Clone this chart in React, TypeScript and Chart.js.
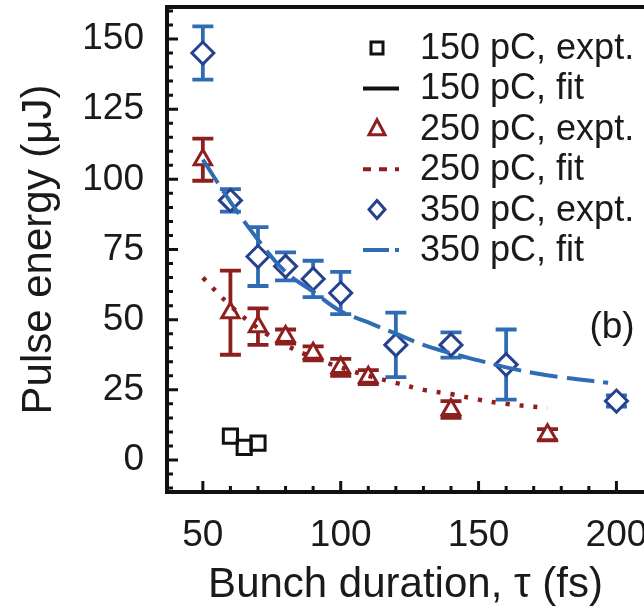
import React, { useEffect, useRef } from 'react';
import { Chart, registerables } from 'chart.js';

Chart.register(...registerables);

// ---- data ----
const xTickValues = [50, 100, 150, 200];
const yTickValues = [0, 25, 50, 75, 100, 125, 150];
const xMinorTicks = [60, 70, 80, 90, 110, 120, 130, 140, 160, 170, 180, 190];
const yMinorTicks = [-10, -5, 5, 10, 15, 20, 30, 35, 40, 45, 55, 60, 65, 70, 80, 85, 90, 95, 105, 110, 115, 120, 130, 135, 140, 145, 155, 160];

const tau150 = [60, 65, 70];
const energy150 = [8.5, 4.5, 6];

const tau250 = [50, 60, 70, 80, 90, 100, 110, 140, 175];
const energy250 = [107, 52.5, 47.5, 44, 38, 33, 29.5, 18, 9];
const err250 = [7.5, 15, 6.5, 2.5, 2.5, 3, 2.5, 3, 2];

const tau350 = [50, 60, 70, 80, 90, 100, 120, 140, 160, 200];
const energy350 = [145, 92.5, 72.5, 69, 64.5, 59.5, 41, 41, 34, 21];
const err350 = [9.5, 4, 10.5, 5, 6.5, 7.5, 11.5, 4.5, 12.5, 2];

const fitTau150: number[] = [];
const fitEnergy150: number[] = [];

const fitTau250 = [50, 60, 70, 80, 90, 100, 110, 120, 130, 140, 150, 160, 175];
const fitEnergy250 = [65, 55, 47, 41, 36.5, 33, 30, 27.5, 25, 23.5, 21.5, 20, 18.5];

const fitTau350 = [50, 60, 70, 80, 90, 100, 110, 120, 130, 140, 150, 160, 170, 180, 197];
const fitEnergy350 = [107, 92, 78.5, 67, 60, 53, 49, 45, 41, 38, 35.5, 33, 31, 29.5, 27.5];

const FONT = '"Liberation Sans", Arial, Helvetica, sans-serif';
const RED = '#8e1f1f';
const NAVY = '#26418d';
const BLUE = '#2f6cb3';
const BLACK = '#111111';

const toPts = (xs: number[], ys: number[]) => xs.map((x, i) => ({ x, y: ys[i] }));

const zeroPadding = (s: any) => {
  s.paddingLeft = 0;
  s.paddingRight = 0;
  s.paddingTop = 0;
  s.paddingBottom = 0;
};

const errorBarPlugin = {
  id: 'errorBars',
  beforeDatasetsDraw(chart: any) {
    const { ctx } = chart;
    const x = chart.scales.x;
    const y = chart.scales.y;
    chart.data.datasets.forEach((ds: any) => {
      if (!ds.errors) return;
      ctx.save();
      ctx.strokeStyle = ds.errorColor;
      ctx.lineWidth = 3.8;
      ds.data.forEach((p: any, i: number) => {
        const e = ds.errors[i];
        const px = x.getPixelForValue(p.x);
        const top = y.getPixelForValue(p.y + e);
        const bot = y.getPixelForValue(p.y - e);
        ctx.beginPath();
        ctx.moveTo(px, top);
        ctx.lineTo(px, bot);
        ctx.moveTo(px - 10.5, top);
        ctx.lineTo(px + 10.5, top);
        ctx.moveTo(px - 10.5, bot);
        ctx.lineTo(px + 10.5, bot);
        ctx.stroke();
      });
      ctx.restore();
    });
  },
};

const framePlugin = {
  id: 'frame',
  afterDatasetsDraw(chart: any) {
    const { ctx, chartArea } = chart;
    const { left, right, top, bottom } = chartArea;
    const x = chart.scales.x;
    const y = chart.scales.y;
    ctx.save();
    ctx.strokeStyle = BLACK;
    ctx.lineCap = 'butt';
    ctx.lineWidth = 4;
    ctx.beginPath();
    ctx.moveTo(right + 4, top);
    ctx.lineTo(left, top);
    ctx.lineTo(left, bottom);
    ctx.lineTo(right + 4, bottom);
    ctx.stroke();
    ctx.lineWidth = 3;
    ctx.beginPath();
    yTickValues.forEach((v) => {
      const py = y.getPixelForValue(v);
      ctx.moveTo(left, py);
      ctx.lineTo(left + 11, py);
    });
    yMinorTicks.forEach((v) => {
      const py = y.getPixelForValue(v);
      ctx.moveTo(left, py);
      ctx.lineTo(left + 6, py);
    });
    xTickValues.forEach((v) => {
      const px = x.getPixelForValue(v);
      ctx.moveTo(px, bottom);
      ctx.lineTo(px, bottom - 11);
    });
    xMinorTicks.forEach((v) => {
      const px = x.getPixelForValue(v);
      ctx.moveTo(px, bottom);
      ctx.lineTo(px, bottom - 6);
    });
    ctx.stroke();

    // panel label
    ctx.fillStyle = '#1a1a1a';
    ctx.font = `37px ${FONT}`;
    ctx.textAlign = 'center';
    ctx.textBaseline = 'middle';
    ctx.fillText('(b)', 612, 328);
    ctx.restore();
  },
};

const legendPlugin = {
  id: 'customLegend',
  afterDraw(chart: any) {
    const { ctx } = chart;
    const symX = 377;
    const textX = 420;
    const y0 = 48;
    const dy = 40.4;
    ctx.save();
    chart.data.datasets.forEach((ds: any, i: number) => {
      const cy = y0 + i * dy;
      ctx.strokeStyle = ds.borderColor;
      if (ds.showLine === false) {
        ctx.lineWidth = 3;
        ctx.fillStyle = '#ffffff';
        ctx.beginPath();
        if (ds.pointStyle === 'rect') {
          ctx.rect(symX - 6, cy - 6, 12, 12);
        } else if (ds.pointStyle === 'triangle') {
          ctx.moveTo(symX, cy - 9);
          ctx.lineTo(symX + 8, cy + 6);
          ctx.lineTo(symX - 8, cy + 6);
          ctx.closePath();
        } else {
          ctx.moveTo(symX, cy - 9);
          ctx.lineTo(symX + 8, cy);
          ctx.lineTo(symX, cy + 9);
          ctx.lineTo(symX - 8, cy);
          ctx.closePath();
        }
        ctx.fill();
        ctx.stroke();
      } else {
        ctx.lineWidth = 4;
        ctx.setLineDash(ds.legendDash || []);
        ctx.beginPath();
        ctx.moveTo(symX - 14, cy);
        ctx.lineTo(symX + 22, cy);
        ctx.stroke();
        ctx.setLineDash([]);
      }
      ctx.fillStyle = '#1a1a1a';
      ctx.font = `36px ${FONT}`;
      ctx.textAlign = 'left';
      ctx.textBaseline = 'middle';
      ctx.fillText(ds.label, textX, cy + 1);
    });
    ctx.restore();
  },
};

export default function App() {
  const ref = useRef<HTMLCanvasElement | null>(null);

  useEffect(() => {
    document.body.style.margin = '0';
    const canvas = ref.current;
    if (!canvas) return;
    const chart = new Chart(canvas, {
      type: 'scatter',
      data: {
        datasets: [
          {
            label: '150 pC, expt.',
            data: toPts(tau150, energy150),
            showLine: false,
            pointStyle: 'rect',
            pointRadius: 10,
            pointBorderWidth: 3,
            borderColor: BLACK,
            pointBorderColor: BLACK,
            pointBackgroundColor: 'rgba(255,255,255,0)',
            order: 1,
          } as any,
          {
            label: '150 pC, fit',
            data: toPts(fitTau150, fitEnergy150),
            showLine: true,
            borderColor: BLACK,
            borderWidth: 4,
            pointRadius: 0,
            legendDash: [],
            order: 0,
          } as any,
          {
            label: '250 pC, expt.',
            data: toPts(tau250, energy250),
            errors: err250,
            errorColor: RED,
            showLine: false,
            pointStyle: 'triangle',
            pointRadius: 10,
            pointBorderWidth: 3,
            borderColor: RED,
            pointBorderColor: RED,
            pointBackgroundColor: '#ffffff',
            order: 1,
          } as any,
          {
            label: '250 pC, fit',
            data: toPts(fitTau250, fitEnergy250),
            showLine: true,
            borderColor: RED,
            borderWidth: 4.5,
            borderDash: [4, 10],
            borderCapStyle: 'butt',
            tension: 0.4,
            pointRadius: 0,
            legendDash: [8, 8],
            order: 0,
          } as any,
          {
            label: '350 pC, expt.',
            data: toPts(tau350, energy350),
            errors: err350,
            errorColor: BLUE,
            showLine: false,
            pointStyle: 'rectRot',
            pointRadius: 11,
            pointBorderWidth: 3,
            borderColor: NAVY,
            pointBorderColor: NAVY,
            pointBackgroundColor: '#ffffff',
            order: 1,
          } as any,
          {
            label: '350 pC, fit',
            data: toPts(fitTau350, fitEnergy350),
            showLine: true,
            borderColor: BLUE,
            borderWidth: 4,
            borderDash: [28, 9],
            tension: 0.4,
            pointRadius: 0,
            legendDash: [26, 6, 4, 6],
            order: 0,
          } as any,
        ],
      },
      options: {
        animation: false,
        responsive: false,
        events: [],
        layout: { autoPadding: false, padding: { top: 7, right: 0, left: 0, bottom: 0 } },
        plugins: {
          legend: { display: false },
          tooltip: { enabled: false },
        },
        scales: {
          x: {
            type: 'linear',
            min: 37,
            max: 210,
            grid: { display: false, drawTicks: false },
            border: { display: false },
            afterBuildTicks: (s: any) => {
              s.ticks = xTickValues.map((v) => ({ value: v }));
            },
            afterFit: (s: any) => {
              s.height = 119;
              zeroPadding(s);
            },
            ticks: {
              padding: 22,
              color: '#1a1a1a',
              font: { family: FONT, size: 37 },
              maxRotation: 0,
              autoSkip: false,
            },
            title: {
              display: true,
              text: 'Bunch duration, τ (fs)',
              color: '#1a1a1a',
              font: { family: FONT, size: 42 },
              padding: { top: 0, bottom: 0 },
            },
          },
          y: {
            type: 'linear',
            min: -11.4,
            max: 161.4,
            grid: { display: false, drawTicks: false },
            border: { display: false },
            afterBuildTicks: (s: any) => {
              s.ticks = yTickValues.map((v) => ({ value: v }));
            },
            afterFit: (s: any) => {
              s.width = 167;
              zeroPadding(s);
            },
            ticks: {
              padding: 23,
              color: '#1a1a1a',
              font: { family: FONT, size: 37 },
              autoSkip: false,
            },
            title: {
              display: true,
              text: 'Pulse energy (μJ)',
              color: '#1a1a1a',
              font: { family: FONT, size: 42 },
              padding: { top: 14, bottom: 0 },
            },
          },
        },
      } as any,
      plugins: [errorBarPlugin, framePlugin, legendPlugin],
    });
    return () => chart.destroy();
  }, []);

  return (
    <div style={{ width: 644, height: 611, overflow: 'hidden', background: '#ffffff' }}>
      <canvas ref={ref} width={644} height={611} style={{ display: 'block' }} />
    </div>
  );
}
